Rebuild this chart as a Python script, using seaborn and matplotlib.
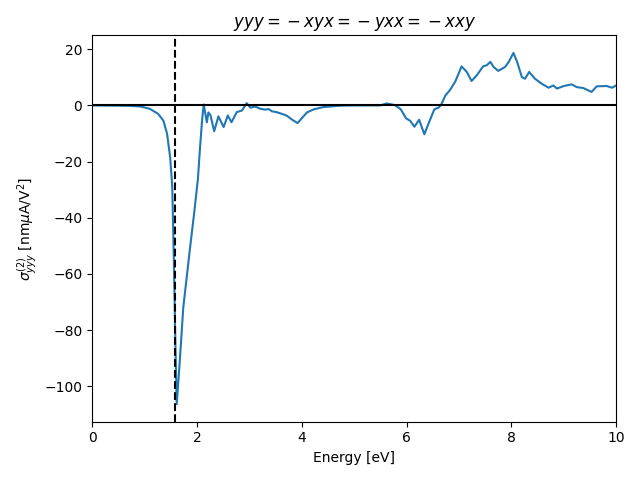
import numpy as np
import pandas as pd
import matplotlib
matplotlib.use("Agg")
import matplotlib.pyplot as plt
import seaborn as sns

# Energi [eV] och sigma_yyy [nm uA/V^2]
energy = [0.0, 0.5, 0.75, 0.92, 1.1, 1.26, 1.36, 1.43, 1.49, 1.53, 1.56, 1.59, 1.615,
          1.67, 1.74, 1.87, 1.95, 2.02, 2.06, 2.10, 2.13, 2.19, 2.22, 2.26, 2.33,
          2.41, 2.51, 2.59, 2.66, 2.76, 2.86, 2.95, 3.02, 3.11, 3.21, 3.30, 3.37,
          3.43, 3.52, 3.62, 3.71, 3.81, 3.92, 4.00, 4.10, 4.23, 4.41, 4.73, 5.0,
          5.50, 5.62, 5.78, 5.89, 5.99, 6.07, 6.15, 6.24, 6.34, 6.44, 6.53, 6.61,
          6.66, 6.74, 6.83, 6.93, 7.05, 7.15, 7.24, 7.34, 7.46, 7.53, 7.60, 7.66,
          7.75, 7.88, 7.95, 8.04, 8.11, 8.20, 8.26, 8.34, 8.45, 8.58, 8.71, 8.80,
          8.87, 9.00, 9.15, 9.25, 9.37, 9.53, 9.63, 9.82, 9.92, 10.0]
sigma = [0.0, -0.1, -0.2, -0.4, -1.2, -3.0, -5.4, -10.0, -18.5, -29.0, -55.0, -85.0, -106.4,
         -92.0, -72.0, -50.6, -38.0, -26.0, -15.0, -5.0, 0.3, -6.0, -2.5, -3.5, -9.2,
         -3.9, -7.7, -3.6, -6.0, -2.4, -1.8, 0.8, -0.8, -0.4, -1.2, -1.5, -1.3,
         -2.1, -2.4, -3.0, -3.6, -5.0, -6.3, -4.6, -2.5, -1.4, -0.6, -0.1, 0.0,
         0.0, 0.7, 0.1, -1.4, -4.6, -5.5, -7.6, -5.1, -10.3, -5.5, -1.4, -0.8,
         0.2, 3.5, 5.5, 8.5, 13.9, 11.9, 8.7, 10.7, 13.9, 14.3, 15.5, 13.7,
         12.3, 13.7, 15.5, 18.7, 15.5, 10.1, 9.5, 11.9, 9.5, 7.7, 6.3, 7.1,
         6.0, 6.9, 7.5, 6.5, 6.2, 4.8, 6.8, 6.9, 6.3, 7.1]

band_gap = 1.58

df = pd.DataFrame({'Energy': energy, 'sigma': sigma})

fig, ax = plt.subplots(figsize=(6.4, 4.8), dpi=100)
sns.lineplot(data=df, x='Energy', y='sigma', ax=ax, color='C0', linewidth=1.5)
ax.axhline(0, color='black')
ax.axvline(band_gap, color='black', linestyle='--')
ax.set_xlim(0, 10)
ax.set_title(r'$yyy={}-xyx={}-yxx={}-xxy$')
ax.set_xlabel('Energy [eV]')
ax.set_ylabel(r'$\sigma^{(2)}_{yyy}$ [nm$\mu$A/V$^2$]')
plt.tight_layout()
plt.savefig('out.png', dpi=100)
